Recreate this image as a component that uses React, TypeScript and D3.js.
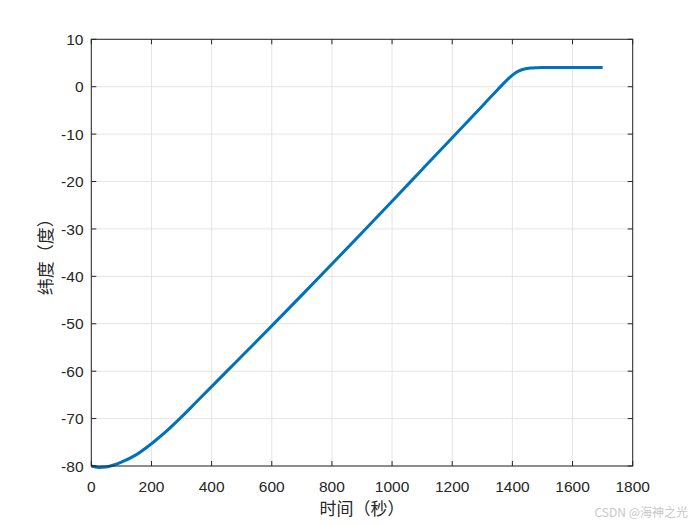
import React from "react";
import * as d3 from "d3";

const timeS = [0, 25, 50, 75, 100, 150, 200, 250, 300, 350, 400, 450, 500, 600, 700, 800, 900, 1000, 1100, 1200, 1300, 1350, 1380, 1400, 1420, 1440, 1460, 1480, 1500, 1550, 1600, 1650, 1700];
const latDeg = [-80.0, -80.3, -80.2, -79.8, -79.2, -77.6, -75.3, -72.65, -69.65, -66.45, -63.25, -60.05, -56.85, -50.45, -43.95, -37.4, -30.8, -24.15, -17.45, -10.75, -4.05, -0.7, 1.3, 2.45, 3.3, 3.75, 3.95, 4.02, 4.05, 4.05, 4.05, 4.05, 4.05];
const xTicks = [0, 200, 400, 600, 800, 1000, 1200, 1400, 1600, 1800];
const yTicks = [-80, -70, -60, -50, -40, -30, -20, -10, 0, 10];
const xLabel = "时间（秒）";
const yLabel = "纬度（度）";
const watermark = "CSDN @海神之光";

const W = 700, H = 525;
const L = 91.3, R = 632.7, T = 39.3, B = 466;

export default function App() {
  const x = d3.scaleLinear().domain([0, 1800]).range([L, R]);
  const y = d3.scaleLinear().domain([-80, 10]).range([B, T]);
  const pts: [number, number][] = timeS.map((t, i) => [t, latDeg[i]]);
  const line = d3
    .line<[number, number]>()
    .x((d) => x(d[0]))
    .y((d) => y(d[1]))
    .curve(d3.curveMonotoneX);
  const axisColor = "#262626";
  const gridColor = "#dedede";
  const tickFont = "'Liberation Sans', Arial, Helvetica, sans-serif";
  const cjkFont = "'Noto Sans CJK SC', sans-serif";
  const tl = 5;
  return (
    <svg width={W} height={H} style={{ position: "absolute", left: 0, top: 0, background: "#fff" }}>
      <rect x={0} y={0} width={W} height={H} fill="#fff" />
      {xTicks.map((t) => (
        <line key={"gx" + t} x1={x(t)} x2={x(t)} y1={T} y2={B} stroke={gridColor} strokeWidth={0.8} />
      ))}
      {yTicks.map((v) => (
        <line key={"gy" + v} x1={L} x2={R} y1={y(v)} y2={y(v)} stroke={gridColor} strokeWidth={0.8} />
      ))}
      <path d={line(pts) || ""} fill="none" stroke="#0072BD" strokeWidth={3} strokeLinejoin="round" strokeLinecap="butt" />
      <rect x={L} y={T} width={R - L} height={B - T} fill="none" stroke={axisColor} strokeWidth={1} />
      {xTicks.map((t) => (
        <g key={"tx" + t}>
          <line x1={x(t)} x2={x(t)} y1={B} y2={B - tl} stroke={axisColor} strokeWidth={1} />
          <line x1={x(t)} x2={x(t)} y1={T} y2={T + tl} stroke={axisColor} strokeWidth={1} />
          <text x={x(t)} y={492} textAnchor="middle" fontFamily={tickFont} fontSize={15.5} fill={axisColor}>
            {t}
          </text>
        </g>
      ))}
      {yTicks.map((v) => (
        <g key={"ty" + v}>
          <line x1={L} x2={L + tl} y1={y(v)} y2={y(v)} stroke={axisColor} strokeWidth={1} />
          <line x1={R} x2={R - tl} y1={y(v)} y2={y(v)} stroke={axisColor} strokeWidth={1} />
          <text x={83.5} y={y(v)} dy="0.36em" textAnchor="end" fontFamily={tickFont} fontSize={15.5} fill={axisColor}>
            {v}
          </text>
        </g>
      ))}
      <text x={(L + R) / 2} y={515} textAnchor="middle" fontFamily={cjkFont} fontSize={17} fill={axisColor}>
        {xLabel}
      </text>
      <text
        transform={`translate(52, ${(T + B) / 2}) rotate(-90)`}
        textAnchor="middle"
        fontFamily={cjkFont}
        fontSize={17}
        fill={axisColor}
      >
        {yLabel}
      </text>
      <text x={688} y={517} textAnchor="end" fontFamily={cjkFont} fontSize={12} fill="#c8c8c8">
        {watermark}
      </text>
    </svg>
  );
}
